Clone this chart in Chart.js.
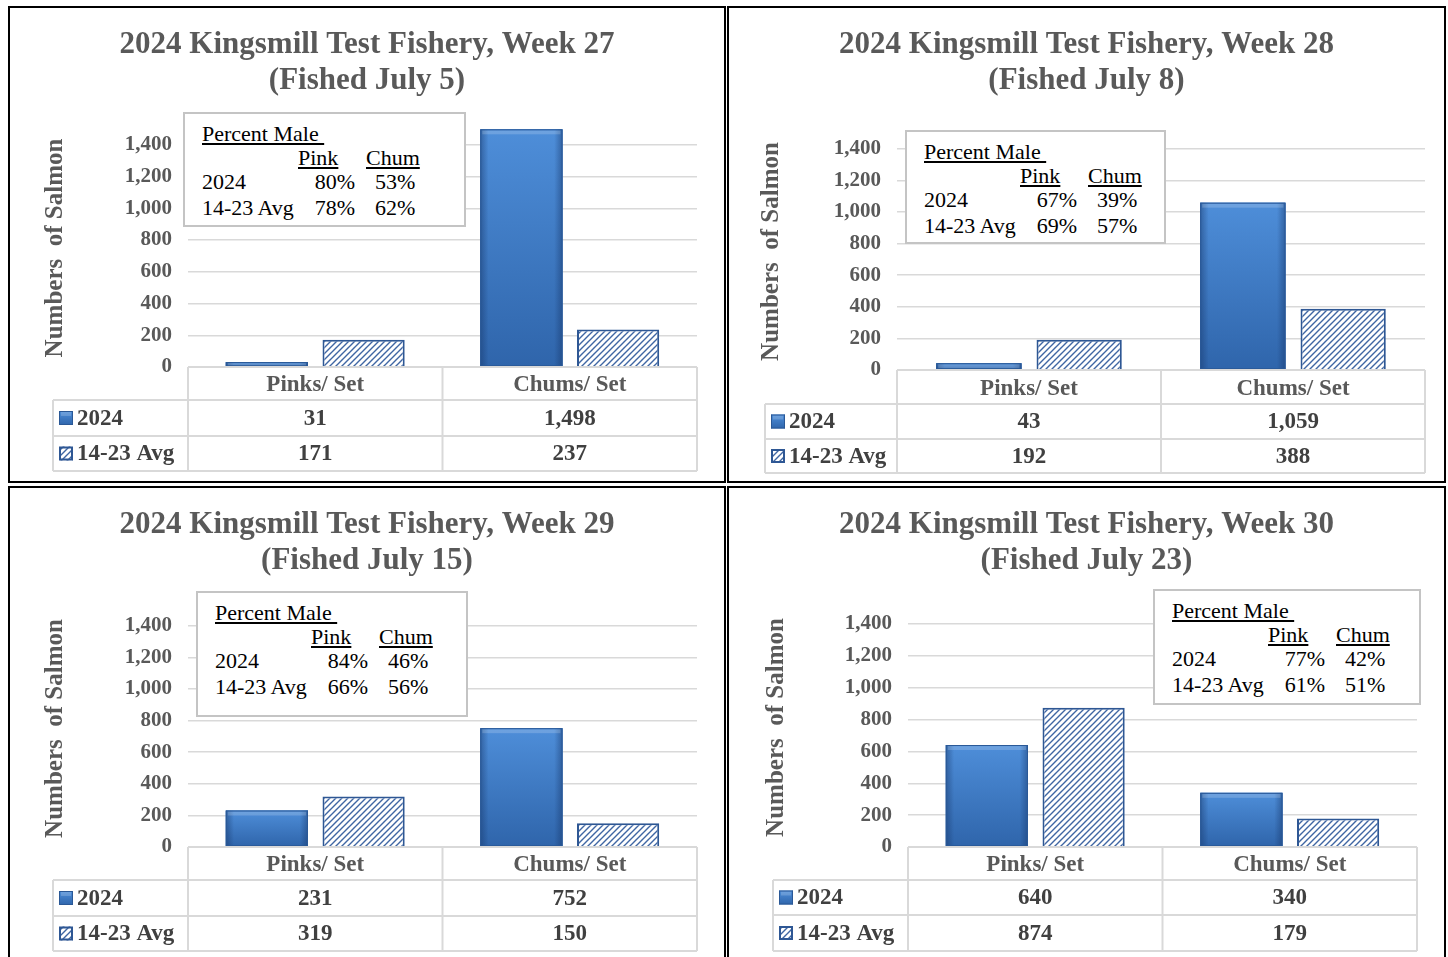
<!DOCTYPE html>
<html>
<head>
<meta charset="utf-8">
<script src="https://cdn.jsdelivr.net/npm/chart.js@4.4.1/dist/chart.umd.min.js"></script>
<style>
body { margin: 0; background: #fff; width: 1448px; height: 957px; overflow: hidden; position: relative; font-family: "Liberation Serif", "Times New Roman", serif; }
.panel { position: absolute; border: 2px solid #000; box-sizing: border-box; background: #fff; overflow: hidden; }
.panel canvas { position: absolute; left: 0; top: 0; }
.pm { position: absolute; background: #fff; border: 2px solid #c4c4c4; box-sizing: border-box; font-size: 22px; color: #000; }
.pm div { position: absolute; line-height: 24px; white-space: nowrap; }
.u { text-decoration: underline; }
</style>
</head>
<body>
<script>
// data
const categories = ['Pinks/ Set', 'Chums/ Set'];
const seriesLabels = ['2024', '14-23 Avg'];
const titleLines = [
  ['2024 Kingsmill Test Fishery, Week 27', '(Fished July 5)'],
  ['2024 Kingsmill Test Fishery, Week 28', '(Fished July 8)'],
  ['2024 Kingsmill Test Fishery, Week 29', '(Fished July 15)'],
  ['2024 Kingsmill Test Fishery, Week 30', '(Fished July 23)']
];
const catch2024 = [[31, 1498], [43, 1059], [231, 752], [640, 340]];
const catchAvg = [[171, 237], [192, 388], [319, 150], [874, 179]];
const male2024 = [[80, 53], [67, 39], [84, 46], [77, 42]]; // pink, chum
const maleAvg = [[78, 62], [69, 57], [66, 56], [61, 51]];
const yTicks = [0, 200, 400, 600, 800, 1000, 1200, 1400];
const yMax = 1500;

// panel placement (px)
const layout = [
  {x: 8, y: 6, w: 718, h: 477, l: 178, r: 27, t: 121, b: 114, tt: 19, yx: 46, tl: 43, rows: [33, 36, 35], box: [173, 104, 283, 115]},
  {x: 727, y: 6, w: 719, h: 477, l: 168, r: 19, t: 125, b: 111, tt: 19, yx: 43, tl: 36, rows: [34, 35, 34], box: [176, 122, 261, 114]},
  {x: 8, y: 486, w: 718, h: 477, l: 178, r: 27, t: 122, b: 114, tt: 19, yx: 46, tl: 43, rows: [33, 36, 35], box: [186, 103, 272, 126]},
  {x: 727, y: 486, w: 719, h: 477, l: 179, r: 27, t: 120, b: 114, tt: 19, yx: 48, tl: 44, rows: [33, 35, 36], box: [424, 101, 268, 116]}
];

const serif = '"Liberation Serif", "Times New Roman", serif';

function paintBlue(ctx, l, t, w, h) {
  if (h <= 0) return;
  ctx.save();
  var g = ctx.createLinearGradient(0, t, 0, t + h);
  g.addColorStop(0, '#4e8ed9');
  g.addColorStop(1, '#2f65ab');
  ctx.fillStyle = g;
  ctx.fillRect(l, t, w, h);
  g = ctx.createLinearGradient(l, 0, l + w, 0);
  g.addColorStop(0, 'rgba(20,50,100,0.45)');
  g.addColorStop(0.1, 'rgba(20,50,100,0)');
  g.addColorStop(0.9, 'rgba(20,50,100,0)');
  g.addColorStop(1, 'rgba(20,50,100,0.45)');
  ctx.fillStyle = g;
  ctx.fillRect(l, t, w, h);
  ctx.fillStyle = 'rgba(255,255,255,0.18)';
  ctx.fillRect(l + 2, t + 1, w - 4, Math.min(4, h - 1));
  ctx.strokeStyle = '#2a5896';
  ctx.lineWidth = 1;
  ctx.strokeRect(l + 0.5, t + 0.5, w - 1, h - 1);
  ctx.restore();
}

function makeHatch(ctx) {
  var c = document.createElement('canvas');
  c.width = 6; c.height = 6;
  var g = c.getContext('2d');
  g.fillStyle = '#fff';
  g.fillRect(0, 0, 6, 6);
  g.strokeStyle = '#3f66a3';
  g.lineWidth = 1.4;
  g.beginPath();
  g.moveTo(0, 6); g.lineTo(6, 0);
  g.moveTo(-1, 1); g.lineTo(1, -1);
  g.moveTo(5, 7); g.lineTo(7, 5);
  g.stroke();
  return ctx.createPattern(c, 'repeat');
}

const barShade = {
  id: 'barShade',
  afterDatasetsDraw(chart) {
    chart.getDatasetMeta(0).data.forEach(function (bar) {
      var p = bar.getProps(['x', 'y', 'base', 'width'], true);
      paintBlue(chart.ctx, p.x - p.width / 2, p.y, p.width, p.base - p.y);
    });
  }
};

const dataTable = {
  id: 'dataTable',
  afterDraw(chart, args, o) {
    var ctx = chart.ctx, a = chart.chartArea, xs = chart.scales.x;
    var y0 = a.bottom, y1 = y0 + o.rows[0], y2 = y1 + o.rows[1], y3 = y2 + o.rows[2];
    var mid = (xs.getPixelForValue(0) + xs.getPixelForValue(1)) / 2;
    ctx.save();
    ctx.strokeStyle = '#d9d9d9';
    ctx.lineWidth = 2;
    ctx.beginPath();
    ctx.moveTo(a.left, y0); ctx.lineTo(a.right, y0);
    [y1, y2, y3].forEach(function (y) { ctx.moveTo(o.left, y); ctx.lineTo(a.right, y); });
    ctx.moveTo(o.left, y1); ctx.lineTo(o.left, y3);
    [a.left, mid, a.right].forEach(function (x) { ctx.moveTo(x, y0); ctx.lineTo(x, y3); });
    ctx.stroke();

    ctx.font = 'bold 23px ' + serif;
    ctx.textAlign = 'center';
    ctx.textBaseline = 'middle';
    var rowMid = [(y1 + y2) / 2 + 1, (y2 + y3) / 2 + 1];
    categories.forEach(function (c, j) {
      var cx = xs.getPixelForValue(j);
      ctx.fillStyle = '#595959';
      ctx.fillText(c, cx, (y0 + y1) / 2 + 2);
      ctx.fillStyle = '#404040';
      chart.data.datasets.forEach(function (ds, k) {
        ctx.fillText(ds.data[j].toLocaleString('en-US'), cx, rowMid[k]);
      });
    });
    // legend keys
    ctx.textAlign = 'left';
    chart.data.datasets.forEach(function (ds, k) {
      var kx = o.left + 6, ky = rowMid[k] - 8;
      if (k === 0) {
        paintBlue(ctx, kx, ky, 14, 14);
      } else {
        ctx.fillStyle = ds.backgroundColor;
        ctx.fillRect(kx, ky, 14, 14);
        ctx.strokeStyle = ds.borderColor;
        ctx.lineWidth = 2;
        ctx.strokeRect(kx + 1, ky + 1, 12, 12);
      }
      ctx.fillStyle = '#404040';
      ctx.fillText(ds.label, kx + 18, rowMid[k]);
    });
    ctx.restore();
  }
};

function boxRow(label, vals, top) {
  return '<div style="left:17px;top:' + top + 'px">' + label + '</div>' +
    '<div style="left:113px;top:' + top + 'px;width:57px;text-align:right">' + vals[0] + '%</div>' +
    '<div style="left:190px;top:' + top + 'px">' + vals[1] + '%</div>';
}

layout.forEach(function (L, i) {
  var panel = document.createElement('div');
  panel.className = 'panel';
  panel.style.cssText = 'left:' + L.x + 'px;top:' + L.y + 'px;width:' + L.w + 'px;height:' + L.h + 'px';
  document.body.appendChild(panel);

  var cv = document.createElement('canvas');
  cv.width = L.w - 4;
  cv.height = L.h - 4;
  panel.appendChild(cv);
  var hatch = makeHatch(cv.getContext('2d'));

  new Chart(cv, {
    type: 'bar',
    data: {
      labels: categories,
      datasets: [
        {label: seriesLabels[0], data: catch2024[i], backgroundColor: '#3b78c4', borderWidth: 0},
        {label: seriesLabels[1], data: catchAvg[i], backgroundColor: hatch, borderColor: '#2e5794', borderWidth: 2}
      ]
    },
    options: {
      responsive: false,
      animation: false,
      categoryPercentage: 0.76,
      barPercentage: 0.85,
      layout: {padding: {left: L.r, right: L.r, top: 0, bottom: L.b}},
      plugins: {
        legend: {display: false},
        tooltip: {enabled: false},
        title: {
          display: true,
          text: titleLines[i],
          color: '#595959',
          font: {family: serif, size: 31, weight: 'bold', lineHeight: 36 / 31},
          padding: {top: L.tt, bottom: L.t - L.tt - 72}
        },
        dataTable: {left: L.tl, rows: L.rows}
      },
      scales: {
        x: {display: false},
        y: {
          min: 0,
          max: yMax,
          border: {display: false},
          grid: {color: '#d9d9d9', lineWidth: 1.5, drawTicks: false},
          ticks: {
            padding: 16,
            color: '#595959',
            font: {family: serif, size: 21, weight: 'bold'},
            callback: function (v) { return v.toLocaleString('en-US'); }
          },
          title: {
            display: true,
            text: 'Numbers  of Salmon',
            color: '#595959',
            font: {family: serif, size: 25, weight: 'bold', lineHeight: 1.2},
            padding: {top: L.yx - L.r - 15, bottom: 0}
          },
          afterBuildTicks: function (s) { s.ticks = yTicks.map(function (v) { return {value: v}; }); },
          afterFit: function (s) { s.width = L.l - L.r; }
        }
      }
    },
    plugins: [barShade, dataTable]
  });

  var box = document.createElement('div');
  box.className = 'pm';
  box.style.cssText = 'left:' + L.box[0] + 'px;top:' + L.box[1] + 'px;width:' + L.box[2] + 'px;height:' + L.box[3] + 'px';
  box.innerHTML =
    '<div class="u" style="left:17px;top:8px">Percent Male&nbsp;</div>' +
    '<div class="u" style="left:113px;top:32px">Pink</div>' +
    '<div class="u" style="left:181px;top:32px">Chum</div>' +
    boxRow('2024', male2024[i], 56) +
    boxRow('14-23 Avg', maleAvg[i], 82);
  panel.appendChild(box);
});
</script>
</body>
</html>
